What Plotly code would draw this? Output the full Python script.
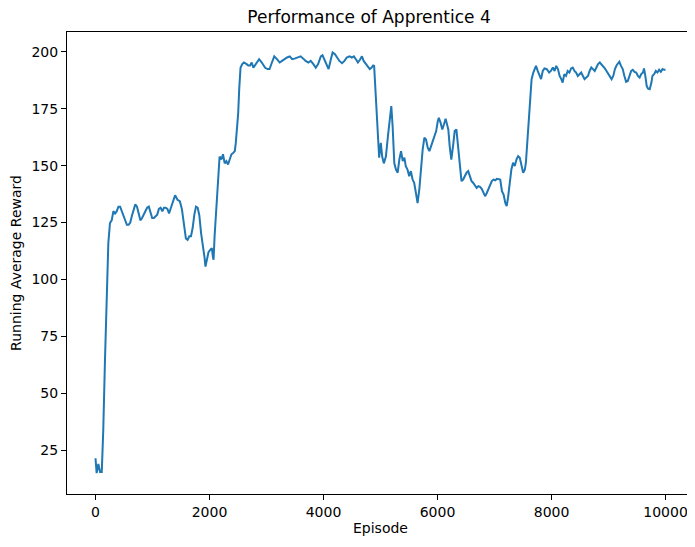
import plotly.graph_objects as go

# running average reward
episode = [
    0, 20, 50, 80, 110, 136, 166, 195, 225, 254, 284, 314, 343, 373, 402, 432, 462, 491,
    521, 550, 580, 610, 639, 669, 698, 728, 757, 787, 817, 846, 876, 905, 935, 964, 994,
    1024, 1053, 1083, 1112, 1142, 1172, 1201, 1231, 1261, 1290, 1320, 1349, 1379, 1396,
    1438, 1479, 1515, 1538, 1562, 1586, 1615, 1645, 1675, 1704, 1734, 1763, 1793, 1822,
    1852, 1882, 1911, 1929, 1953, 1982, 2012, 2041, 2059, 2071, 2089, 2118, 2148, 2177,
    2207, 2237, 2266, 2296, 2325, 2355, 2385, 2414, 2444, 2461, 2485, 2503, 2521, 2544,
    2574, 2603, 2651, 2680, 2710, 2740, 2769, 2799, 2828, 2870, 2917, 2976, 3018, 3053,
    3095, 3136, 3183, 3231, 3272, 3319, 3361, 3408, 3450, 3491, 3538, 3598, 3645, 3686,
    3734, 3775, 3822, 3864, 3905, 3953, 3982, 4012, 4053, 4089, 4130, 4160, 4201, 4237,
    4278, 4325, 4367, 4408, 4455, 4497, 4532, 4574, 4603, 4639, 4674, 4704, 4740, 4781,
    4811, 4840, 4870, 4888, 4911, 4935, 4958, 4976, 5005, 5029, 5058, 5094, 5130, 5159,
    5189, 5212, 5242, 5271, 5301, 5330, 5360, 5390, 5419, 5443, 5473, 5503, 5532, 5562,
    5591, 5621, 5650, 5680, 5710, 5739, 5769, 5798, 5828, 5857, 5887, 5917, 5946, 5976,
    6005, 6023, 6053, 6083, 6112, 6142, 6159, 6189, 6213, 6242, 6272, 6301, 6331, 6361,
    6390, 6420, 6449, 6479, 6509, 6538, 6568, 6597, 6627, 6657, 6686, 6716, 6745, 6775,
    6804, 6834, 6864, 6893, 6923, 6952, 6982, 7012, 7041, 7071, 7100, 7130, 7159, 7189,
    7213, 7236, 7266, 7295, 7325, 7355, 7384, 7414, 7443, 7473, 7502, 7532, 7550, 7574,
    7597, 7621, 7650, 7680, 7710, 7727, 7757, 7787, 7816, 7846, 7876, 7917, 7958, 7988,
    8023, 8053, 8082, 8112, 8142, 8171, 8195, 8224, 8254, 8283, 8313, 8343, 8372, 8402,
    8431, 8461, 8491, 8520, 8550, 8579, 8609, 8639, 8668, 8698, 8727, 8757, 8787, 8816,
    8846, 8875, 8905, 8935, 8964, 8994, 9024, 9053, 9083, 9112, 9142, 9171, 9189, 9219,
    9249, 9278, 9308, 9337, 9367, 9397, 9426, 9456, 9485, 9515, 9545, 9574, 9604, 9622,
    9645, 9669, 9693, 9722, 9752, 9770, 9799, 9829, 9858, 9888, 9917, 9947, 9976, 9999,
]
reward = [
    21.5, 15, 19, 15.5, 15.5, 33.8, 64.6, 96, 116, 124.8, 126, 130, 129, 130, 132, 132, 130, 128.5,
    126, 124, 124, 125, 128, 131, 133, 132, 129, 126, 127, 128.5, 130, 131.5, 132, 130, 127,
    127, 128, 128.5, 131, 131.5, 130, 131.5, 131.5, 131, 129, 131, 133, 135, 137,
    135, 134.4, 131, 127, 122, 118, 117.4, 119, 119, 122.6, 128.5, 132, 131.5, 128,
    120.4, 116, 110, 105.7, 108.7, 112, 113, 113.8, 110, 108.7, 119, 132, 145, 154,
    152.7, 155, 151, 152, 150.5, 152.7, 155, 155.6, 156.4, 160, 166, 173, 183.6, 193,
    194.6, 195.3, 194.6, 194, 194, 195.3, 193, 194, 195.3, 196.8, 195.3, 193, 192.4, 192.4,
    195.3, 198, 196.8, 195.3, 196, 197, 197.5, 198, 196.8, 197, 197.5, 198, 197, 196,
    195.3, 196, 194.6, 193, 194.6, 198, 198.5, 196.8, 193.8, 192.4, 196.8, 199.7, 199, 197.5,
    196, 195, 196, 197.5, 198, 197.5, 198, 196.5, 195.3, 196.5, 198, 196, 194.6, 193,
    192.4, 193, 194, 193.8, 183.6, 172, 162, 153.5, 160, 154, 151, 154, 163, 170,
    176.2, 167.4, 151, 148.3, 146.9, 152.7, 156.4, 152, 153.5, 149.8, 148.3, 145.4, 147.6, 144,
    142.4, 138, 133.6, 139.5, 149.8, 157, 162.3, 161.5, 157.9, 156.4, 158.6, 160.8, 163.7, 165.2,
    169.6, 171, 168.9, 165.9, 168.1, 170.6, 168.9, 165.9, 158.6, 152.7, 158.6, 165.2, 165.9, 158.6,
    148.3, 143.2, 143.9, 145.4, 146.9, 147.6, 145.4, 143.2, 142.4, 141, 140.2, 141, 140.7, 139.8,
    138, 136.6, 138, 139.5, 141.7, 143.2, 143.9, 143.6, 144.2, 144.2, 143.9, 138.8, 137.3, 133.6,
    132.2, 135.8, 142.4, 148.3, 151.3, 149.8, 152.7, 154.2, 153.5, 150.5, 146.9, 148.3, 151.3, 160,
    168.9, 179.2, 188, 190.9, 193.1, 193.8, 191.6, 189.4, 188, 191.6, 192.7, 192.4, 190.9, 191.6,
    193.1, 191.6, 193.8, 192.4, 189.4, 188, 186.5, 190.2, 189.4, 191.6, 190.9, 192.7, 193.1, 191.6,
    190.9, 189.4, 190.2, 190.9, 189.4, 188, 188.7, 189.4, 191.6, 193.1, 192.4, 191.6, 193.1, 194.6,
    195.3, 194.6, 193.8, 192.7, 191.6, 190.2, 188.7, 188, 189.4, 192.4, 194.1, 195.3, 195.6, 193.8,
    192.4, 189.4, 186.8, 187.2, 189.4, 191.6, 192.1, 191.2, 190.9, 189.4, 188.7, 190.2, 190.9, 192.7,
    189.4, 185, 183.8, 183.6, 186.5, 189.4, 190.2, 191.6, 190.9, 192.1, 191.2, 192.4, 192.1, 192.1,
]

x_ticks = [0, 2000, 4000, 6000, 8000, 10000]
x_tick_labels = ["0", "2000", "4000", "6000", "8000", "10000"]
y_ticks = [25, 50, 75, 100, 125, 150, 175, 200]
y_tick_labels = ["25", "50", "75", "100", "125", "150", "175", "200"]

fig = go.Figure(go.Scatter(
    x=episode, y=reward, mode="lines",
    line=dict(color="#1f77b4", width=2),
    showlegend=False,
))

axis_style = dict(
    showgrid=False, zeroline=False, showline=True, linecolor="black", linewidth=1,
    mirror=True, ticks="outside", ticklen=5, tickcolor="black", automargin=False,
    tickfont=dict(size=14, color="black"),
)

# page body keeps an 8px margin, so the figure is 8px smaller and shifted
fig.update_layout(
    width=687, height=539,
    margin=dict(l=59, r=1, t=24, b=53),
    paper_bgcolor="white", plot_bgcolor="white",
    font=dict(family="DejaVu Sans", color="black"),
    title=dict(text="Performance of Apprentice 4", x=0.5255, xanchor="center",
               y=0.983, yanchor="middle", font=dict(size=17, color="black")),
    xaxis=dict(axis_style, range=[-500, 10499], tickvals=x_ticks, ticktext=x_tick_labels,
               title=dict(text="Episode", font=dict(size=14), standoff=4)),
    yaxis=dict(axis_style, range=[5.8, 208.7], tickvals=y_ticks, ticktext=y_tick_labels,
               title=dict(text="Running Average Reward", font=dict(size=14), standoff=6)),
)

fig.write_html("out.html")
